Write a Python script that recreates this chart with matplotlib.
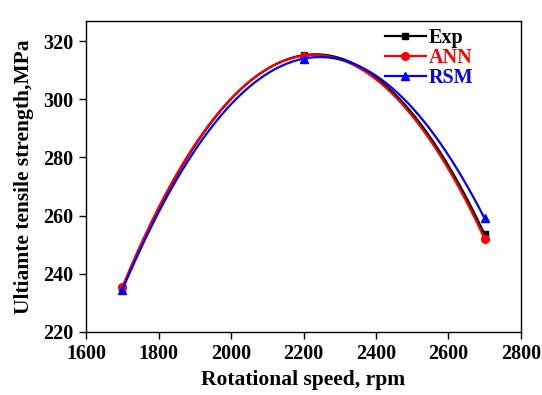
import numpy as np
import matplotlib.pyplot as plt

speed = [1700, 2200, 2700]
exp_uts = [235.0, 315.2, 253.5]
ann_uts = [235.5, 315.0, 252.0]
rsm_uts = [234.5, 314.0, 259.0]

plt.rcParams['font.family'] = ['Liberation Serif', 'DejaVu Serif']
plt.rcParams['font.weight'] = 'bold'

fig = plt.figure(figsize=(5.42, 3.95), dpi=100)
ax = fig.add_axes([0.159, 0.160, 0.802, 0.787])

xs = np.linspace(speed[0], speed[-1], 200)
series = [
    (exp_uts, 'Exp', 'black', 's', 4.5),
    (ann_uts, 'ANN', 'red', 'o', 5.5),
    (rsm_uts, 'RSM', 'blue', '^', 5.5),
]
for vals, name, col, mk, ms in series:
    # smooth curve through the three points (like Origin's spline)
    coef = np.polyfit(speed, vals, 2)
    ax.plot(xs, np.polyval(coef, xs), color=col, lw=1.6)
    ax.plot(speed, vals, linestyle='none', marker=mk, color=col, ms=ms)
    ax.plot([], [], color=col, lw=1.6, marker=mk, ms=ms, label=name)

ax.set_xlim(1600, 2800)
ax.set_ylim(220, 327)
ax.set_xticks(range(1600, 2801, 200))
ax.set_yticks(range(220, 321, 20))
ax.tick_params(direction='out', length=5, width=1, labelsize=14.5, pad=4)
for lab in ax.get_xticklabels() + ax.get_yticklabels():
    lab.set_fontweight('bold')
for sp in ax.spines.values():
    sp.set_linewidth(1)

ax.set_xlabel('Rotational speed, rpm', fontsize=15.5, fontweight='bold', labelpad=4)
ax.set_ylabel('Ultiamte tensile strength,MPa', fontsize=15.5, fontweight='bold', labelpad=7)

leg = ax.legend(loc='upper left', frameon=False, fontsize=14.5, handlelength=2.0,
                handletextpad=0.15, labelspacing=0.0, borderaxespad=0.0,
                borderpad=0.0, bbox_to_anchor=(0.688, 0.978))
for txt, line in zip(leg.get_texts(), leg.get_lines()):
    txt.set_color(line.get_color())
    txt.set_fontweight('bold')

fig.savefig('out.png', dpi=100)
